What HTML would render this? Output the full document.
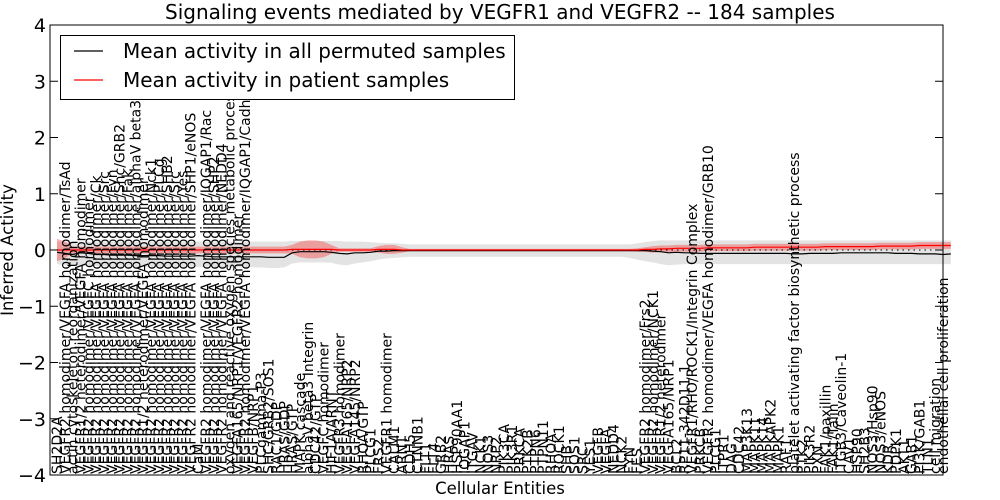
<!DOCTYPE html>
<html><head><meta charset="utf-8"><style>
html,body{margin:0;padding:0;background:#fff;}
svg{display:block;font-family:"DejaVu Sans","Liberation Sans",sans-serif;}
</style></head><body>
<svg id="chart" width="1000" height="500" viewBox="0 0 1000 500">
<text x="500" y="19" text-anchor="middle" font-size="20">Signaling events mediated by VEGFR1 and VEGFR2 -- 184 samples</text>
<g id="bands"></g>
<g id="lines"></g>
<g id="xlabels"></g>
<g id="yaxis"></g>
<rect x="50" y="25" width="893" height="450" fill="none" stroke="#000" stroke-width="1"/>
<g>
<rect x="60.5" y="35.5" width="454" height="64" fill="#fff" stroke="#000"/>
<line x1="74" y1="51" x2="103" y2="51" stroke="#000" stroke-width="1.2"/>
<text x="123" y="58" font-size="20">Mean activity in all permuted samples</text>
<line x1="74" y1="80" x2="103" y2="80" stroke="#f00" stroke-width="1.2"/>
<text x="123" y="87" font-size="20">Mean activity in patient samples</text>
</g>
<text x="500" y="494" text-anchor="middle" font-size="16.5">Cellular Entities</text>
<text transform="translate(13,250) rotate(-90)" text-anchor="middle" font-size="16.5">Inferred Activity</text>
</svg>
<script>
const labels = ["SH2D2A","VEGFR2 homodimer/VEGFA homodimer/TsAd","actin cytoskeleton reorganization","VEGFR1/2 heterodimer/VEGFA homodimer","VEGFR2 homodimer/VEGFC homodimer","VEGFR2 homodimer/VEGFA homodimer/Ck","VEGFR2 homodimer/VEGFA homodimer/Src","VEGFR2 homodimer/VEGFA homodimer/Fyn","VEGFR2 homodimer/VEGFA homodimer/Shc/GRB2","VEGFR2 homodimer/VEGFA homodimer/Fak","VEGFR2 homodimer/VEGFA homodimer/alphaV beta3","VEGFR1/2 heterodimer/VEGFA homodimer","VEGFR2 homodimer/VEGFA homodimer/Nck1","VEGFR2 homodimer/VEGFA homodimer/PLCg","VEGFR2 homodimer/VEGFA homodimer/SHB2","VEGFR2 homodimer/VEGFA homodimer/Src","VEGFR2 homodimer/VEGFA homodimer/Yes","VEGFR2 homodimer/VEGFA homodimer/SHP1/eNOS","CaM","VEGFR2 homodimer/VEGFA homodimer/IQGAP1/Rac","VEGFR2 homodimer/VEGFA homodimer/SHP2","VEGFR2 homodimer/VEGFA homodimer/NEDD4","oxygen and reactive oxygen species metabolic process","VEGFA165/NRP1/VEGFR2 homodimer","VEGFR2 homodimer/VEGFA homodimer/IQGAP1/Cadherin","VEGFB/NRP1","PLCgamma-P3","SHC/GRB2/SOS1","RAC1/GDP","HRAS/GDP","HRAS/GTP","MAPK cascade","alphaV beta3 Integrin","CDC42/GTP","VEGFC homodimer","HIF1A/ARNT","VEGFR3 homodimer","VEGFA165/NRP2","VEGFA145/NRP2","RHOA/GTP","PLCG1","FRS2","VEGFR1 homodimer","CALM1","ARNT","CDH5","CTNNB1","FLT1","FLT4","GRB2","HRAS","HSP90AA1","IQGAP1","ITGAV","NCK1","NOS3","NRP2","PIK3CA","PIK3R1","PRKCA","PTK2B","PTPN6","PTPN11","RHOA","ROCK1","SHB","SOS1","SRC","YES1","VEGFB","VEGFA","NEDD4","NCK2","FYN","FES","VEGFR2 homodimer/Frs2","VEGFR2 homodimer/NCK1","VEGFR1/2 heterodimer","VEGFA165/NRP1","BCL2","RP11-342D11.1","VEGFR1/RHO/ROCK1/Integrin Complex","PRKCB","VEGFR2 homodimer/VEGFA homodimer/GRB10","PLCG1","ITPR1","DAG","CDC42","MAP3K13","MAPK11","MAPK14","MAPKAPK2","MAPK1","RAF1","platelet activating factor biosynthetic process","PTK2","PIK3R2","PXN","FAK1/paxillin","FAK1/Talin","ITGB3/Caveolin-1","CAV1","HSP90","SH2B3","NOS3/Hsp90","NOS3/eNOS","KDR","PDPK1","AKT1","GAB1","PI3K/GAB1","TLN1","cell migration","endothelial cell proliferation"];
const permutedMean = [-0.04,-0.06,-0.08,-0.05,-0.06,
-0.08,-0.08,-0.09,-0.09,-0.09,-0.10,-0.10,-0.10,-0.10,-0.11,-0.11,-0.11,-0.11,-0.10,-0.11,-0.12,-0.12,-0.12,-0.12,-0.12,-0.12,-0.12,-0.13,-0.13,-0.13,
-0.05,-0.03,-0.03,-0.03,-0.03,-0.04,-0.06,-0.07,-0.05,-0.05,-0.04,-0.02,-0.02,-0.01,-0.01,
-0.01,-0.01,-0.01,-0.01,-0.01,-0.01,-0.01,-0.01,-0.01,-0.01,-0.01,-0.01,-0.01,-0.01,-0.01,-0.01,-0.01,-0.01,-0.01,-0.01,-0.01,-0.01,-0.01,-0.01,-0.01,-0.01,-0.01,-0.01,-0.01,-0.01,-0.01,-0.02,
-0.03,-0.05,-0.04,-0.05,-0.05,-0.06,-0.06,-0.06,-0.06,-0.06,-0.06,-0.06,-0.06,
-0.06,-0.06,-0.06,-0.06,-0.07,-0.07,-0.06,-0.06,-0.06,-0.06,-0.05,-0.05,-0.05,-0.05,-0.05,-0.05,-0.05,-0.06,-0.06,-0.06,-0.07,-0.07,-0.07,-0.08,-0.07];
const patientMean = [0,0,0,0,0,0,0,0,0,0,0,0,0,0,0,0,0,0,0,0,0,0,0,0,0,0,0,0,0,0,
0.01,0.01,0.01,0.01,0.01,0.01,0,0,0,0,0,0.01,0.01,0.01,0,0,0,0,0,0,0,0,0,0,0,0,0,0,0,0,0,0,0,0,0,0,0,0,0,0,0,0,0,0,0,0.01,0.01,
0.02,0.02,0.03,0.03,0.03,0.03,0.04,0.04,0.04,0.04,0.04,0.04,0.05,0.05,0.05,0.05,0.05,0.05,0.05,0.05,0.05,0.06,0.06,0.06,0.06,0.06,0.06,0.06,0.07,0.07,0.07,0.07,0.07,0.08,0.08,0.08,0.08,0.08];
const patientSpread = [0.2,0.15,
0.06,0.06,0.06,0.06,0.06,0.06,0.06,0.06,0.06,0.06,0.06,0.06,0.06,0.06,0.06,0.06,0.06,0.06,0.06,0.06,0.06,0.06,0.06,0.06,0.06,0.06,0.06,0.06,
0.08,0.14,0.16,0.16,0.14,0.08,
0.03,0.03,0.03,0.03,0.03,
0.06,0.08,0.08,0.05,
0.02,0.02,0.02,0.02,0.02,0.02,0.02,0.02,0.02,0.02,0.02,0.02,0.02,0.02,0.02,0.02,0.02,0.02,0.02,0.02,0.02,0.02,0.02,0.02,0.02,0.02,0.02,0.02,0.02,0.03,0.04,
0.06,0.06,0.06,0.06,0.06,0.06,0.06,0.06,0.06,0.06,0.06,0.06,0.06,0.06,0.06,0.06,0.06,0.06,0.06,0.06,0.06,0.06,0.06,0.06,0.06,0.06,0.06,0.06,0.06,0.06,0.06,0.06,0.06,0.06,0.06,0.06,0.06,0.06,0.06];
const permutedHigh = [0.15,0.15,0.15,0.15,0.15,0.15,0.15,0.15,0.15,0.15,0.15,0.15,0.15,0.15,0.15,0.15,0.15,0.15,0.15,0.15,0.15,0.15,0.15,0.15,0.15,0.15,0.15,0.15,0.15,0.15,
0.16,0.16,0.16,0.16,0.16,0.16,0.16,0.15,0.15,0.15,0.14,0.13,0.12,0.12,0.11,
0.1,0.1,0.1,0.1,0.1,0.1,0.1,0.1,0.1,0.1,0.1,0.1,0.1,0.1,0.1,0.1,0.1,0.1,0.1,0.1,0.1,0.1,0.1,0.1,0.1,0.1,0.1,0.1,0.1,0.12,0.14,0.16,
0.17,0.17,0.17,0.17,0.17,0.17,0.17,0.17,0.17,0.17,0.17,0.17,0.17,0.17,0.17,0.17,0.17,0.17,0.17,0.17,0.17,0.17,0.17,0.17,0.17,0.17,0.17,0.17,0.17,0.17,0.17,0.17,0.17,0.17,0.17,0.17,0.17,0.17];
const permutedLow = [-0.25,-0.27,-0.28,-0.28,-0.28,-0.29,-0.29,-0.3,-0.3,-0.3,-0.3,-0.3,-0.3,-0.3,-0.3,-0.3,-0.3,-0.3,-0.3,-0.3,-0.3,-0.31,-0.31,-0.31,-0.31,-0.31,-0.31,-0.32,-0.32,-0.31,
-0.24,-0.22,-0.22,-0.22,-0.22,-0.23,-0.26,-0.27,-0.24,-0.22,-0.2,-0.17,-0.15,-0.14,-0.13,
-0.12,-0.12,-0.12,-0.12,-0.12,-0.12,-0.12,-0.12,-0.12,-0.12,-0.12,-0.12,-0.12,-0.12,-0.12,-0.12,-0.12,-0.12,-0.12,-0.12,-0.12,-0.12,-0.12,-0.12,-0.12,-0.12,-0.12,-0.12,-0.14,-0.17,-0.2,-0.22,
-0.25,-0.27,-0.26,-0.25,-0.25,-0.25,-0.25,-0.25,-0.25,-0.25,-0.25,-0.25,-0.25,-0.25,-0.25,-0.25,-0.25,-0.25,-0.25,-0.25,-0.25,-0.25,-0.25,-0.25,-0.25,-0.25,-0.25,-0.25,-0.25,-0.25,-0.25,-0.25,-0.25,-0.25,-0.25,-0.25,-0.25,-0.25];
const yTicks = [-4,-3,-2,-1,0,1,2,3,4];

const NS = "http://www.w3.org/2000/svg";
const X0 = 57, X1 = 943, Y_TOP = 25, Y_BOT = 475, YMIN = -4, YMAX = 4;
function xs(i){ return X0 + i * (X1 - X0) / (labels.length - 1); }
function ys(v){ return Y_BOT - (v - YMIN) / (YMAX - YMIN) * (Y_BOT - Y_TOP); }
function mk(tag, attrs, parent){ const e = document.createElementNS(NS, tag); for (const k in attrs) e.setAttribute(k, attrs[k]); parent.appendChild(e); return e; }

const bands = document.getElementById('bands');
const lines = document.getElementById('lines');
const xl = document.getElementById('xlabels');
const ya = document.getElementById('yaxis');

function areaPath(hi, lo){
  let d = '';
  for (let i = 0; i < hi.length; i++) d += (i ? 'L' : 'M') + xs(i).toFixed(1) + ',' + ys(hi[i]).toFixed(1);
  for (let i = lo.length - 1; i >= 0; i--) d += 'L' + xs(i).toFixed(1) + ',' + ys(lo[i]).toFixed(1);
  return d + 'Z';
}
function linePath(arr){
  let d = '';
  for (let i = 0; i < arr.length; i++) d += (i ? 'L' : 'M') + xs(i).toFixed(1) + ',' + ys(arr[i]).toFixed(1);
  return d;
}

const g1 = mk('path', {d: areaPath(permutedHigh, permutedLow), fill: '#e3e3e3', stroke: 'none'}, bands);


const pHi = patientMean.map((v, i) => v + patientSpread[i]);
const pLo = patientMean.map((v, i) => v - patientSpread[i]);
const g2 = mk('path', {d: areaPath(pHi, pLo), fill: '#f00', 'fill-opacity': '0.3', stroke: 'none'}, bands);



const zl = mk('line', {x1: 50, x2: 943, y1: ys(0), y2: ys(0), stroke: '#000', 'stroke-dasharray': '1.5,4', 'stroke-width': 1}, lines);


const bl = mk('path', {d: linePath(permutedMean), fill: 'none', stroke: '#000', 'stroke-width': 1.2}, lines);


const rl = mk('path', {d: linePath(patientMean), fill: 'none', stroke: '#f00', 'stroke-width': 1.2}, lines);



labels.forEach((lab, i) => {
  const x = xs(i) + 5;
  const t = mk('text', {transform: 'translate(' + x.toFixed(1) + ',474) rotate(-90)', 'font-size': 14}, xl);
  t.textContent = lab;
  
  
});

yTicks.forEach(v => {
  const y = ys(v);
  const t1 = mk('line', {x1: 50, x2: 58, y1: y, y2: y, stroke: '#000'}, ya);
  
  
  const t2 = mk('line', {x1: 935, x2: 943, y1: y, y2: y, stroke: '#000'}, ya);
  
  
  const tx = mk('text', {x: 46, y: y + 7, 'text-anchor': 'end', 'font-size': 19}, ya);
  tx.textContent = v < 0 ? '\u2212' + Math.abs(v) : String(v);
  
  
});
</script>
</body></html>
